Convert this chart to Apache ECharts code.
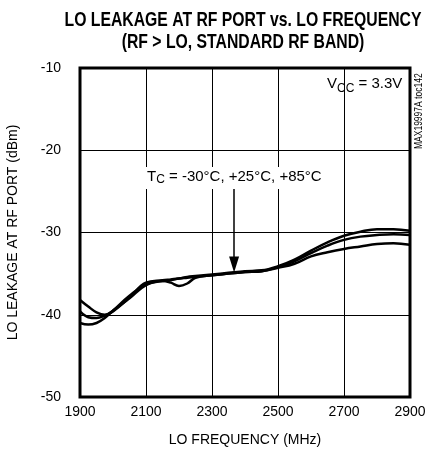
<!DOCTYPE html>
<html>
<head>
<meta charset="utf-8">
<script src="https://cdn.jsdelivr.net/npm/echarts@6/dist/echarts.min.js"></script>
<style>
  html, body { margin: 0; padding: 0; background: #fff; }
  #grafico { width: 425px; height: 457px; }
</style>
</head>
<body>
<div id="grafico"></div>
<script>
// Frecuencias LO (MHz) y fuga LO en el puerto RF (dBm) para las tres temperaturas
const frecuencias = [1900, 1925, 1950, 1975, 2000, 2050, 2100, 2150, 2175, 2200, 2225, 2250, 2300, 2350, 2400, 2450, 2500, 2550, 2600, 2650, 2700, 2750, 2800, 2850, 2900];
const fugaA = [-38.2, -39.0, -39.7, -40.0, -39.6, -37.9, -36.1, -35.8, -35.7, -35.6, -35.4, -35.3, -35.1, -34.9, -34.7, -34.6, -34.1, -33.3, -32.2, -31.2, -30.4, -29.9, -29.6, -29.6, -29.8];
const fugaB = [-39.6, -40.3, -40.4, -40.1, -39.5, -38.0, -36.4, -35.9, -36.1, -36.5, -36.2, -35.5, -35.2, -35.0, -34.8, -34.7, -34.2, -33.5, -32.5, -31.6, -30.9, -30.5, -30.3, -30.2, -30.3];
const fugaC = [-41.0, -41.2, -41.0, -40.4, -39.5, -37.7, -36.3, -35.9, -35.8, -35.6, -35.5, -35.4, -35.2, -35.0, -34.8, -34.7, -34.3, -33.8, -32.9, -32.4, -32.0, -31.7, -31.4, -31.3, -31.5];

const titulo1 = 'LO LEAKAGE AT RF PORT vs. LO FREQUENCY';
const titulo2 = '(RF > LO, STANDARD RF BAND)';

const fuente = '"Liberation Sans", Arial, sans-serif';

// Medir el ancho del título para comprimirlo como una fuente condensada
const ctx = document.createElement('canvas').getContext('2d');
ctx.font = 'bold 21px "Liberation Sans"';
const escalaTitulo = 357 / ctx.measureText(titulo1).width;

const grafico = echarts.init(document.getElementById('grafico'));

function armarSerie(nombre, valores, extra) {
    return Object.assign({
        name: nombre,
        type: 'line',
        data: frecuencias.map((f, i) => [f, valores[i]]),
        smooth: 0.4,
        symbol: 'none',
        lineStyle: { color: '#000', width: 2.5 },
        z: 3
    }, extra || {});
}

function lineaTitulo(texto, y) {
    return {
        type: 'text',
        x: 243,
        y: y,
        scaleX: escalaTitulo,
        style: {
            text: texto,
            fontFamily: fuente,
            fontWeight: 'bold',
            fontSize: 21,
            fill: '#000',
            align: 'center',
            verticalAlign: 'middle'
        }
    };
}

const opciones = {
    backgroundColor: '#fff',
    animation: false,
    grid: {
        left: 80,
        right: 15,
        top: 68,
        bottom: 60,
        outerBoundsMode: 'none',
        show: true,
        borderColor: '#000',
        borderWidth: 3,
        z: 4
    },
    xAxis: {
        type: 'value',
        min: 1900,
        max: 2900,
        interval: 200,
        name: 'LO FREQUENCY (MHz)',
        nameLocation: 'middle',
        nameGap: 36,
        nameTextStyle: { fontFamily: fuente, fontSize: 14, color: '#000' },
        axisLine: { show: false },
        axisTick: { show: false },
        axisLabel: { fontFamily: fuente, fontSize: 14, color: '#000', margin: 8, formatter: v => String(v) },
        splitLine: { show: true, lineStyle: { color: '#000', width: 1 } }
    },
    yAxis: {
        type: 'value',
        min: -50,
        max: -10,
        interval: 10,
        name: 'LO LEAKAGE AT RF PORT (dBm)',
        nameLocation: 'middle',
        nameGap: 60,
        nameTextStyle: { fontFamily: fuente, fontSize: 14, color: '#000' },
        axisLine: { show: false },
        axisTick: { show: false },
        axisLabel: { fontFamily: fuente, fontSize: 14, color: '#000', margin: 19 },
        splitLine: { show: true, lineStyle: { color: '#000', width: 1 } }
    },
    series: [
        armarSerie('-30°C', fugaA),
        armarSerie('+25°C', fugaB),
        armarSerie('+85°C', fugaC, {
            markLine: {
                silent: true,
                symbol: ['none', 'triangle'],
                symbolSize: [10, 16],
                label: { show: false },
                lineStyle: { color: '#000', width: 1.5, type: 'solid' },
                data: [[{ coord: [2367, -24.6] }, { coord: [2367, -33.9] }]]
            }
        })
    ],
    graphic: [
        lineaTitulo(titulo1, 20),
        lineaTitulo(titulo2, 42),
        {
            type: 'text',
            left: 327,
            top: 76,
            style: {
                text: '{n|V}{s|CC}{n| = 3.3V}',
                rich: {
                    n: { fontFamily: fuente, fontSize: 15, color: '#000', lineHeight: 18, verticalAlign: 'top' },
                    s: { fontFamily: fuente, fontSize: 12, color: '#000', lineHeight: 18, padding: [7, 0, 0, 0], verticalAlign: 'top' }
                }
            }
        },
        {
            type: 'text',
            left: 145,
            top: 167,
            z: 10,
            style: {
                text: '{n|T}{s|C}{n| = -30°C, +25°C, +85°C}',
                backgroundColor: '#fff',
                padding: [2, 2, 2, 2],
                rich: {
                    n: { fontFamily: fuente, fontSize: 15, color: '#000', lineHeight: 18, verticalAlign: 'top' },
                    s: { fontFamily: fuente, fontSize: 12, color: '#000', lineHeight: 18, padding: [5, 0, 0, 0], verticalAlign: 'top' }
                }
            }
        },
        {
            type: 'text',
            x: 414,
            y: 149,
            rotation: Math.PI / 2,
            scaleX: 0.85,
            style: {
                text: 'MAX19997A toc142',
                fontFamily: fuente,
                fontSize: 10,
                fill: '#000'
            }
        }
    ]
};

grafico.setOption(opciones);
</script>
</body>
</html>
